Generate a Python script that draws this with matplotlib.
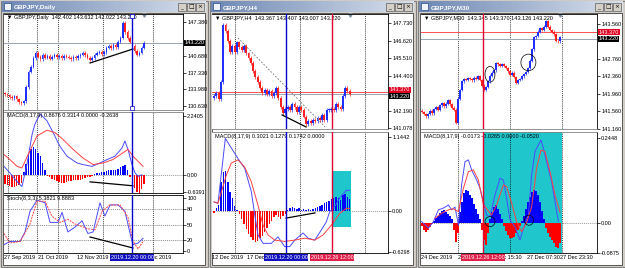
import numpy as np
import matplotlib.pyplot as plt
from matplotlib.colors import LinearSegmentedColormap
from matplotlib.patches import Rectangle, Ellipse

plt.rcParams['font.family'] = ['Liberation Sans', 'DejaVu Sans']

W, H = 625, 268
BLUE = '#1f2fff'
RED = '#ff2020'
LBLUE = '#4a4aff'
LRED = '#ff4040'
CYAN = '#1fc6cc'

# ---------------- Daily ----------------
daily_open0 = 133.2
daily_close = [133.0, 132.8, 132.5, 132.3, 132.6, 132.0, 131.4, 131.2, 131.6, 134.5,
               137.5, 138.5, 140.2, 141.2, 140.5, 140.0, 140.8, 140.3, 140.6, 140.1,
               140.5, 140.9, 140.4, 140.6, 140.2, 140.7, 140.5, 140.3, 140.0, 140.4,
               140.2, 140.6, 140.9, 141.2, 140.8, 140.3, 139.9, 140.2, 140.9, 141.3,
               141.5, 141.0, 141.4, 142.3, 142.6, 142.2, 142.8, 142.4, 143.5, 144.3,
               147.2, 145.4, 144.2, 143.5, 142.6, 141.6, 140.9, 141.3, 142.3, 143.2]
daily_hist = [-0.35, -0.40, -0.42, -0.45, -0.45, -0.42, -0.40, -0.30,
              0.10, 0.40, 0.80, 1.00, 1.05, 1.00, 0.85, 0.70, 0.45, 0.20,
              -0.05, -0.10, -0.15, -0.20, -0.25, -0.28, -0.30, -0.30, -0.28, -0.25,
              -0.22, -0.20, -0.18, -0.20, -0.18, -0.15, -0.12, -0.10, -0.08, -0.05,
              0.02, 0.05, 0.08, 0.10, 0.12, 0.15, 0.18, 0.20, 0.18, 0.20, 0.22, 0.28,
              0.35, 0.38, 0.20,
              -0.10, -0.30, -0.50, -0.65, -0.70, -0.55, -0.35]
daily_macd_x = [-0.4, 2.1, 5.1, 7.2, 9.3, 11.5, 12.7, 14.9, 17.8, 20.4, 22.5, 23.3, 26.3,
                30.6, 33.1, 36.9, 40.3, 43.3, 46.7, 49.7, 50.9, 52.2, 53.9, 55.2, 56.5, 58.1]
daily_macd = [0.32, 0.07, -0.26, -0.45, 0.39, 1.54, 1.93, 2.32, 2.06, 1.62, 1.23, 1.09, 0.71,
              0.45, 0.39, 0.32, 0.45, 0.58, 0.71, 1.03, 1.29, 0.97, 0.39, 0.07, -0.06, 0.0]
daily_signal_x = [-0.4, 2.1, 5.1, 7.2, 9.8, 13.6, 17.8, 21.2, 24.6, 28.9, 33.1, 37.4,
                  41.6, 45.8, 50.1, 52.2, 54.3, 56.5, 58.6]
daily_signal = [0.77, 0.58, 0.32, 0.26, 0.77, 1.48, 1.70, 1.61, 1.35, 0.97, 0.64, 0.39,
                0.45, 0.58, 0.84, 0.97, 0.71, 0.51, 0.32]
daily_k_x = [-0.4, 2.1, 6.4, 8.5, 10.6, 13.6, 17.0, 19.1, 22.5, 24.2, 26.7, 29.7, 32.7,
             35.2, 37.4, 40.3, 42.4, 44.6, 48.0, 50.9, 53.1, 54.3, 56.5, 58.6]
daily_k = [12, 18, 18, 36, 75, 96, 91, 54, 54, 73, 36, 45, 57,
           33, 36, 91, 66, 87, 87, 75, 33, 12, 15, 24]
daily_d_x = [-0.4, 2.1, 6.4, 10.6, 13.6, 17.0, 19.9, 23.3, 26.7, 29.7, 35.2, 38.2,
             41.2, 44.6, 48.8, 52.2, 54.3, 56.5, 58.6]
daily_d = [33, 15, 18, 51, 94, 94, 66, 54, 60, 51, 42, 40, 75, 87, 87, 64, 18, 4, 18]
daily_grid = [1.3, 13.6, 22.5, 41.6, 62.8]
daily_date_pos = [-0.4, 14.0, 30.6, 45.4, 57.3]
daily_dates = ['27 Sep 2019', '21 Oct 2019', '12 Nov 2019', '4 Dec 2019', '13 Dec 2019']
daily_price_ticks = [147.38, 140.68, 137.33, 133.98, 130.63]
daily_price_labels = ['147.380', '140.680', '137.330', '133.980', '130.630']
daily_event = 54
daily_trend_main = ([36.1, 54.3], [139.24, 142.02])
daily_trend_macd = ([36.1, 54.3], [-0.27, -0.42])
daily_trend_stoch = ([36.1, 54.3], [26.4, 5.7])

# ---------------- H4 ----------------
h4_open0 = 143.0
h4_close = [143.1, 143.3, 142.9, 144.0, 147.6, 147.2, 146.6, 145.9, 146.3, 145.9,
            146.5, 146.2, 146.0, 146.3, 145.8, 145.5, 145.2, 144.7, 144.3, 144.0,
            143.6, 143.3, 143.5, 143.2, 143.4, 143.1, 143.3, 143.6, 143.0, 142.4,
            142.0, 142.3, 142.4, 142.2, 142.6, 142.4, 142.1, 142.4, 142.2, 141.8,
            141.3, 141.5, 141.4, 141.6, 141.5, 141.7, 141.6, 141.9, 141.6, 142.2,
            142.2, 142.3, 142.2, 142.6, 142.4, 142.3, 143.1, 143.6, 143.4, 143.2]
h4_hist = [-0.03, 0.05, 0.10, 0.45, 0.60, 0.62, 0.45, 0.30, 0.20, 0.08,
           0.02, -0.05, -0.12, -0.20, -0.28, -0.35, -0.40, -0.45, -0.48, -0.46,
           -0.42, -0.38, -0.32, -0.26, -0.20, -0.16, -0.10, -0.06, -0.10, -0.12,
           -0.08, -0.04, 0.02, 0.04, 0.06, 0.05, 0.03, 0.04, 0.02, 0.03,
           0.02, 0.03, 0.02, 0.03, 0.04, 0.06, 0.08, 0.10, 0.12, 0.14,
           0.16, 0.18, 0.20, 0.22, 0.20, 0.17, 0.24, 0.26, 0.22, 0.18]
h4_macd_x = [0.0, 1.7, 4.9, 10.4, 13.3, 16.2, 17.7, 19.1, 21.3, 24.9, 27.8, 30.7, 32.9,
             35.1, 38.7, 40.9, 43.8, 46.7, 48.8, 50.3, 52.5, 54.6, 57.5, 59.0]
h4_macd = [0.14, 0.12, 1.12, 0.81, 0.66, 0.30, -0.06, -0.37, -0.50, -0.50, -0.40, -0.55, -0.55,
           -0.45, -0.34, -0.42, -0.45, -0.29, -0.17, -0.01, 0.07, 0.20, 0.32, 0.32]
h4_signal_x = [0.0, 1.7, 5.4, 7.5, 10.4, 13.3, 16.2, 19.1, 21.3, 23.5, 26.4, 30.7, 35.1,
               39.4, 43.8, 47.4, 51.0, 54.6, 57.5, 59.0]
h4_signal = [0.14, 0.12, 0.56, 0.74, 0.79, 0.68, 0.45, 0.09, -0.22, -0.37, -0.45, -0.47, -0.45,
             -0.42, -0.45, -0.37, -0.22, -0.04, 0.04, 0.04]
h4_grid = [9.0, 37.3, 65.5]
h4_date_pos = [-0.9, 14.3]
h4_dates = ['12 Dec 2019', '17 Dec 2019']
h4_price_ticks = [147.73, 146.62, 145.51, 144.40, 142.18, 141.07]
h4_price_labels = ['147.730', '146.620', '145.510', '144.400', '142.190', '141.078']
h4_event_blue = 31.4
h4_event_red = 51.3
h4_trend_dash = ([10.4, 48.3], [146.78, 141.14])
h4_trend_main = ([29.6, 40.0], [141.90, 141.14])
h4_trend_macd = ([31.3, 43.9], [-0.11, -0.03])
h4_box = (51.3, 59.6, -0.24, 0.62)

# ---------------- M30 ----------------
m30_open0 = 141.58
m30_close = [141.55, 141.50, 141.45, 141.50, 141.58, 141.52, 141.62, 141.66, 141.60, 141.70,
             141.75, 141.68, 141.74, 141.82, 141.72, 141.65, 141.60, 141.30, 141.85, 142.05,
             142.25, 142.30, 142.28, 142.32, 142.30, 142.27, 142.33, 142.30, 142.36, 142.28,
             142.15, 142.05, 142.12, 142.25, 142.38, 142.45, 142.50, 142.66, 142.64, 142.60,
             142.64, 142.60, 142.55, 142.48, 142.40, 142.45, 142.35, 142.22, 142.28, 142.30,
             142.36, 142.42, 142.46, 142.55, 142.72, 142.98, 143.25, 143.28, 143.38, 143.46,
             143.42, 143.50, 143.62, 143.50, 143.42, 143.38, 143.32, 143.18, 143.16, 143.25]
m30_hist = [-0.010, -0.020, -0.026, -0.020, -0.012, -0.005,
            0.005, 0.012, 0.020, 0.028, 0.035, 0.037, 0.030, 0.025, 0.020, 0.010,
            -0.020, -0.055, -0.030,
            0.030, 0.060, 0.085, 0.094, 0.090, 0.080, 0.070, 0.055, 0.040, 0.025, 0.010,
            -0.020, -0.050, -0.064, -0.030,
            0.010, 0.030, 0.045, 0.051, 0.040, 0.025, 0.010,
            -0.010, -0.025, -0.035, -0.044, -0.044, -0.040, -0.030, -0.020, -0.010,
            0.005, 0.020, 0.040, 0.060, 0.075, 0.088, 0.094, 0.090, 0.080, 0.060, 0.035, 0.010,
            -0.015, -0.030, -0.040, -0.050, -0.060, -0.070, -0.073, -0.060]
m30_macd_x = [-0.2, 3.2, 5.7, 8.2, 10.7, 13.2, 14.8, 16.5, 18.2, 19.8, 21.5, 23.2, 24.8,
              27.3, 29.0, 30.7, 32.3, 34.0, 36.5, 39.0, 40.7, 42.3, 44.0, 46.5, 49.0, 50.7,
              53.2, 54.8, 56.5, 58.2, 59.5, 60.7, 62.3, 64.8, 66.5, 68.2]
m30_macd = [0.003, -0.016, 0.003, 0.037, 0.042, 0.051, 0.037, 0.045, -0.007, 0.109, 0.176,
            0.181, 0.152, 0.123, 0.099, 0.061, 0.022, 0.017, 0.080, 0.128, 0.123, 0.070,
            0.008, -0.012, -0.050, -0.016, 0.022, 0.137, 0.205, 0.224, 0.238, 0.214, 0.176,
            0.118, 0.061, 0.003]
m30_signal_x = [6.5, 9.8, 13.2, 15.7, 18.2, 20.7, 23.2, 25.7, 28.2, 30.7, 34.8, 37.3, 40.7,
                42.3, 44.8, 47.3, 49.8, 52.3, 54.8, 57.3, 59.5, 61.5, 64.0, 66.5, 69.0]
m30_signal = [0.013, 0.027, 0.037, 0.040, 0.032, 0.099, 0.147, 0.152, 0.123, 0.052, 0.022,
              0.051, 0.109, 0.104, 0.057, 0.003, -0.026, 0.000, 0.045, 0.157, 0.209, 0.205,
              0.147, 0.080, 0.030]
m30_grid = [18.2, 44.0, 69.9]
m30_date_pos = [-0.5, 18.0, 33.5, 52.5, 69.0]
m30_dates = ['24 Dec 2019', '24 Dec 2019', '26 Dec 15:30', '27 Dec 07:30', '27 Dec 23:30']
m30_price_ticks = [143.56, 142.76, 142.36, 141.96, 141.56, 141.16]
m30_price_labels = ['143.560', '142.760', '142.360', '141.960', '141.560', '141.160']
m30_event_red = 30.7
m30_circles_main = [(34.0, 142.41, 5.0, 0.36), (53.2, 142.68, 7.5, 0.38)]
m30_circles_macd = [(34.0, 0.003, 5.0, 0.029), (53.5, 0.007, 4.5, 0.029)]

last_price = 143.22
ask_price = 143.37

fig = plt.figure(figsize=(W / 100, H / 100), dpi=100)
fig.patch.set_facecolor('#d4d0c8')
bg = fig.add_axes([0, 0, 1, 1])
bg.axis('off')

title_cmap = LinearSegmentedColormap.from_list('tb', ['#6f88b4', '#d8e0ec'])


def window(x0, x1, title):
    bg.add_patch(Rectangle((x0 + 0.5, 0.5), x1 - x0 - 1, H - 2, fc='#d4d0c8', ec='#808080', lw=0.8))
    bg.imshow(np.linspace(0, 1, 64)[None, :], extent=[x0 + 2, x1 - 2, 12.5, 1.5],
              cmap=title_cmap, aspect='auto', zorder=2)
    bg.add_patch(Rectangle((x0 + 4, 3), 7, 7, fc='#eef3fa', ec='#2a4c8a', lw=0.5, zorder=3))
    bg.text(x0 + 14, 7.3, title, color='white', fontsize=4.6, fontweight='bold', va='center', zorder=3)
    for k, glyph in enumerate(['_', '\u25a1', '\u00d7']):
        bx = x1 - 30 + 9 * k
        bg.add_patch(Rectangle((bx, 3), 8, 8, fc='#d4d0c8', ec='#404040', lw=0.4, zorder=3))
        bg.text(bx + 4, 7, glyph, fontsize=4.2, ha='center', va='center', zorder=4,
                family=['DejaVu Sans'])
    bg.add_patch(Rectangle((x0 + 3, 13), x1 - x0 - 6, 252, fc='white', ec='#404040', lw=0.6, zorder=1))


def panel(x0, y0, x1, y1, xlim, ylim):
    ax = fig.add_axes([x0 / W, 1 - y1 / H, (x1 - x0) / W, (y1 - y0) / H])
    ax.set_facecolor('white')
    ax.set_xlim(*xlim)
    ax.set_ylim(*ylim)
    for s in ax.spines.values():
        s.set_linewidth(0.6)
    ax.spines['left'].set_visible(False)
    ax.yaxis.tick_right()
    ax.tick_params(axis='y', labelsize=4, length=2, width=0.5, pad=1)
    ax.tick_params(axis='x', labelsize=4, length=0, pad=1.5)
    ax.set_xticks([])
    return ax


def candles(ax, open0, closes, wick, width=0.6):
    c = np.array(closes)
    o = np.concatenate([[open0], c[:-1]])
    x = np.arange(len(c))
    col = np.where(c >= o, BLUE, RED)
    ax.vlines(x, np.minimum(o, c) - wick, np.maximum(o, c) + wick, colors=col, lw=0.5)
    ax.bar(x, np.maximum(np.abs(c - o), wick * 0.4), bottom=np.minimum(o, c), width=width,
           color=col, lw=0)


def histogram(ax, hist, width):
    h = np.array(hist)
    ax.bar(np.arange(len(h)), h, width=width, color=np.where(h >= 0, '#0000ff', '#ff0000'), lw=0)
    ax.axhline(0, color='#707070', lw=0.5, ls=(0, (1.5, 1.5)), zorder=0)


def grid(ax, pos):
    for g in pos:
        ax.axvline(g, color='black', lw=0.5, ls=(0, (1.5, 1.5)), zorder=0.5)


def label(ax, text):
    ax.text(0.015, 0.985, text, transform=ax.transAxes, fontsize=4, va='top', ha='left')


def price_box(ax, value, text, fc):
    ax.annotate(text, xy=(1, value), xycoords=('axes fraction', 'data'), xytext=(1.2, 0),
                textcoords='offset points', ha='left', va='center', fontsize=4, color='white',
                bbox=dict(boxstyle='square,pad=0.12', fc=fc, ec='none'), annotation_clip=False)


def time_box(ax, pos, text, fc):
    ax.annotate(text, xy=(pos, 0), xycoords=('data', 'axes fraction'), xytext=(0, -1.5),
                textcoords='offset points', ha='center', va='top', fontsize=4, color='white',
                bbox=dict(boxstyle='square,pad=0.12', fc=fc, ec='none'), annotation_clip=False,
                zorder=5)


def dates(ax, pos, labels):
    ax.set_xticks(pos)
    ax.set_xticklabels(labels, ha='left')


# ---------- window 1: Daily ----------
window(0, 208, 'GBPJPY,Daily')
xl1 = (-0.42, 75.55)
a1 = panel(4, 14, 183, 110, xl1, (129.89, 148.98))
b1 = panel(4, 112, 183, 193, xl1, (-0.695, 2.395))
c1 = panel(4, 195, 183, 253, xl1, (-3.8, 105.7))
for ax in (a1, b1, c1):
    grid(ax, daily_grid)
    ax.axvline(daily_event, color='#0000cc', lw=1.0, zorder=4)
a1.spines['bottom'].set_color('#808080')
b1.spines['top'].set_color('#808080')
candles(a1, daily_open0, daily_close, 0.35)
a1.axhline(last_price, color='#98a4b0', lw=0.7, zorder=0.8)
a1.plot(*daily_trend_main, color='black', lw=0.9)
a1.plot([daily_event, daily_event], [148.6, 130.2], 's', ms=2.2, mfc='white', mec='#0000cc', mew=0.5,
        zorder=6, clip_on=False)
a1.plot([len(daily_close) - 1], [148.7], 'v', ms=2.5, color='#8090a0', clip_on=False)
a1.set_yticks(daily_price_ticks, daily_price_labels)
price_box(a1, last_price, '143.220', 'black')
label(a1, '\u25bc GBPJPY,Daily  142.402 143.632 142.022 143.220')

histogram(b1, daily_hist, 0.6)
b1.plot(daily_macd_x, daily_macd, color=LBLUE, lw=0.7)
b1.plot(daily_signal_x, daily_signal, color=LRED, lw=0.7)
b1.plot(*daily_trend_macd, color='black', lw=0.9)
b1.set_yticks([2.2405, 0.0, -0.6391], ['2.2405', '0.00', '-0.6391'])
label(b1, 'MACD(8,17,9) 0.8676 0.3314 0.0000 -0.2638')

for lv in (80, 50, 20):
    c1.axhline(lv, color='#606060', lw=0.5, ls=(0, (1.5, 1.5)), zorder=0.5)
c1.plot(daily_k_x, daily_k, color=LBLUE, lw=0.7)
c1.plot(daily_d_x, daily_d, color=LRED, lw=0.7, ls=(0, (2, 1)))
c1.plot(*daily_trend_stoch, color='black', lw=0.9)
c1.set_yticks([100, 80, 50, 20, 0], ['100', '80', '50', '20', '0'])
label(c1, 'Stoch(8,3,3) 5.3821 9.8883')
dates(c1, daily_date_pos, daily_dates)
time_box(c1, daily_event, '2019.12.20 00:00', '#1010c0')

# ---------- window 2: H4 ----------
window(209, 416, 'GBPJPY,H4')
xl2 = (-0.87, 75.65)
a2 = panel(212, 14, 388, 129, xl2, (141.01, 148.30))
b2 = panel(212, 132, 388, 253, xl2, (-0.649, 1.22))
a2.spines['bottom'].set_color('#808080')
b2.spines['top'].set_color('#808080')
for ax in (a2, b2):
    grid(ax, h4_grid)
    ax.axvline(h4_event_blue, color='#0000cc', lw=1.0, zorder=4)
    ax.axvline(h4_event_red, color='#dd0030', lw=1.0, zorder=4)
candles(a2, h4_open0, h4_close, 0.12, width=0.8)
a2.axhline(ask_price, color='#ff5050', lw=0.7, zorder=0.8)
a2.axhline(last_price, color='#98a4b0', lw=0.7, zorder=0.8)
a2.plot(*h4_trend_dash, color='#707070', lw=0.6, ls=(0, (2, 2)))
a2.plot(*h4_trend_main, color='black', lw=0.9)
a2.plot([len(h4_close) - 1], [148.26], 'v', ms=2.5, color='#8090a0', clip_on=False)
a2.set_yticks(h4_price_ticks, h4_price_labels)
price_box(a2, ask_price + 0.12, '143.370', '#e00020')
price_box(a2, last_price - 0.12, '143.220', 'black')
label(a2, '\u25bc GBPJPY,H4  143.367 143.407 143.007 143.220')

x0, x1, v0, v1 = h4_box
b2.add_patch(Rectangle((x0, v0), x1 - x0, v1 - v0, fc=CYAN, ec='none', zorder=0.6))
histogram(b2, h4_hist, 0.6)
b2.plot(h4_macd_x, h4_macd, color=LBLUE, lw=0.7)
b2.plot(h4_signal_x, h4_signal, color=LRED, lw=0.7)
b2.plot(*h4_trend_macd, color='black', lw=0.9)
b2.set_yticks([1.1442, 0.0, -0.6298], ['1.1442', '0.00', '-0.6298'])
label(b2, 'MACD(8,17,9) 0.3021 0.1279 0.1742 0.0000')
dates(b2, h4_date_pos, h4_dates)
time_box(b2, h4_event_blue, '2019.12.20 00:00', '#1010c0')
time_box(b2, h4_event_red, '2019.12.26 12:00', '#e0204a')

# ---------- window 3: M30 ----------
window(417, 625, 'GBPJPY,M30')
xl3 = (-0.5, 87.5)
a3 = panel(421, 14, 597, 129, xl3, (141.19, 143.786))
b3 = panel(421, 132, 597, 253, xl3, (-0.0873, 0.2614))
a3.spines['bottom'].set_color('#808080')
b3.spines['top'].set_color('#808080')
b3.axvspan(m30_event_red, m30_grid[-1], color=CYAN, lw=0, zorder=0.4)
for ax in (a3, b3):
    grid(ax, m30_grid)
    ax.axvline(m30_event_red, color='#dd0030', lw=1.0, zorder=4)
candles(a3, m30_open0, m30_close, 0.03, width=0.7)
a3.axhline(ask_price, color='#ff5050', lw=0.7, zorder=0.8)
a3.axhline(last_price, color='#98a4b0', lw=0.7, zorder=0.8)
for cx, cy, w, h in m30_circles_main:
    a3.add_patch(Ellipse((cx, cy), w, h, fc='none', ec='black', lw=0.5, zorder=5))
a3.plot([len(m30_close) - 1], [143.77], 'v', ms=2.5, color='#8090a0', clip_on=False)
a3.set_yticks(m30_price_ticks, m30_price_labels)
price_box(a3, ask_price, '143.370', '#e00020')
price_box(a3, last_price, '143.220', 'black')
label(a3, '\u25bc GBPJPY,M30  143.345 143.370 143.126 143.220')

histogram(b3, m30_hist, 1.0)
b3.plot(m30_macd_x, m30_macd, color=LBLUE, lw=0.7)
b3.plot(m30_signal_x, m30_signal, color=LRED, lw=0.7)
for cx, cy, w, h in m30_circles_macd:
    b3.add_patch(Ellipse((cx, cy), w, h, fc='none', ec='black', lw=0.5, zorder=5))
b3.set_yticks([0.2448, 0.0, -0.0875], ['0.2448', '0.00', '-0.0875'])
label(b3, 'MACD(8,17,9) -0.0173 -0.0265 0.0000 -0.0520')
dates(b3, m30_date_pos, m30_dates)
time_box(b3, m30_event_red, '2019.12.26 12:00', '#e0204a')

bg.set_xlim(0, W)
bg.set_ylim(H, 0)

fig.savefig('out.png', dpi=100, facecolor=fig.get_facecolor())
